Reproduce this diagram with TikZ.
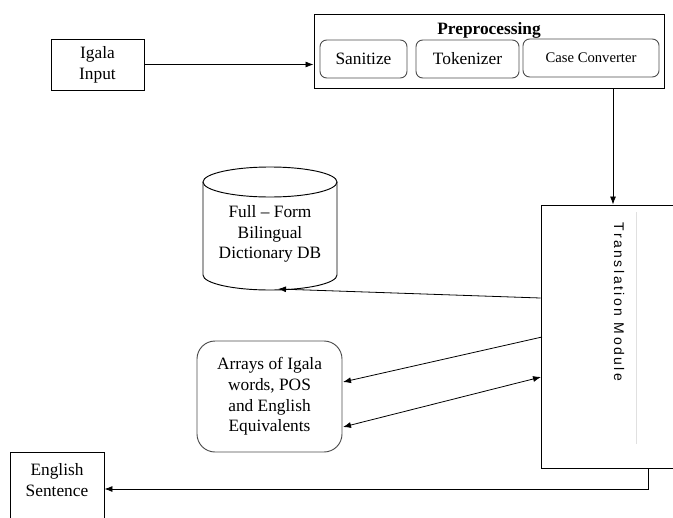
\documentclass[tikz,border=0pt]{standalone}
\usepackage{fontspec}
\setmainfont{Liberation Serif}
\newfontfamily\tmfont[LetterSpace=18]{Liberation Sans}
\usetikzlibrary{arrows.meta}
\begin{document}
\begin{tikzpicture}[x=0.75pt,y=-0.75pt,
  every node/.style={font=\fontsize{13}{15.5}\selectfont, align=center},
  sqbox/.style={draw=black, line width=0.7pt, inner sep=0pt},
  rbox/.style={draw=black!70, line width=0.7pt, rounded corners=5pt, inner sep=0pt},
  arr/.style={-{Latex[length=6pt,width=4.5pt]}, line width=0.6pt},
  dblarr/.style={{Latex[length=6pt,width=4.5pt]}-{Latex[length=6pt,width=4.5pt]}, line width=0.6pt},
  plain/.style={line width=0.6pt}]
\clip (0,0) rectangle (673,517);
% Input
\node[sqbox, minimum width=69.75pt, minimum height=38.25pt] (igala) at (97.5,64.5) {Igala\\Input};
% Preprocessing
\node[sqbox, minimum width=262.5pt, minimum height=55.5pt] (pre) at (489,51) {};
\node[font=\fontsize{13}{15}\selectfont\bfseries, inner sep=0pt] (pretitle) at (489,30) {Preprocessing};
\node[rbox, minimum width=65.25pt, minimum height=28.5pt] (san) at (363.5,59) {Sanitize};
\node[rbox, minimum width=77.25pt, minimum height=28.5pt] (tok) at (467.5,59) {Tokenizer};
\node[rbox, minimum width=102pt, minimum height=28.5pt, font=\fontsize{11}{13}\selectfont] (case) at (591,58) {Case Converter};
% Translation module
\node[sqbox, minimum width=119.25pt, minimum height=197.25pt] (tm) at (620.5,336.5) {};
\draw[black!12, line width=0.5pt] (636,212) -- (636,444);
\node[rotate=-90, font=\tmfont\fontsize{10.5}{12}\selectfont, inner sep=0pt] (tmlabel) at (619,302) {Translation Module};
% Database cylinder
\draw[line width=0.7pt, fill=white] (203,182) -- (203,275)
  arc[start angle=180, end angle=360, x radius=50.25pt, y radius=11.25pt] -- (337,182);
\draw[line width=0.7pt] (270,182) ellipse [x radius=50.25pt, y radius=11.25pt];
\node[inner sep=0pt] (db) at (270,234) {Full – Form\\Bilingual\\Dictionary DB};
\coordinate (dbbot) at (278,289);
% Arrays
\node[draw=black!70, line width=0.7pt, rounded corners=13.5pt, minimum width=108.75pt, minimum height=83.25pt, inner sep=0pt] (arrays) at (269.5,396.5) {Arrays of Igala\\words, POS\\and English\\Equivalents};
% English sentence
\node[sqbox, minimum width=70.5pt, minimum height=66pt, anchor=north] (engbox) at (57,452) {};
\node[inner sep=0pt] (eng) at (57,480) {English\\Sentence};
% coordinates
\coordinate (c1) at (613,0);
\coordinate (ydb) at (0,298);
\coordinate (a1s) at (542,337);
\coordinate (a1e) at (343,382);
\coordinate (a2s) at (343,427);
\coordinate (a2e) at (541,377);
\coordinate (outx) at (648,0);
\coordinate (outy) at (0,489);
% connectors
\draw[arr] (igala.east) -- (igala.east -| pre.west);
\draw[arr] (pre.south -| c1) -- (tm.north -| c1);
\draw[arr] (tm.west |- ydb) -- (dbbot);
\draw[arr] (a1s) -- (a1e);
\draw[dblarr] (a2s) -- (a2e);
\draw[arr] (tm.south -| outx) -- (outx |- outy) -- (engbox.east |- outy);
\end{tikzpicture}
\end{document}
